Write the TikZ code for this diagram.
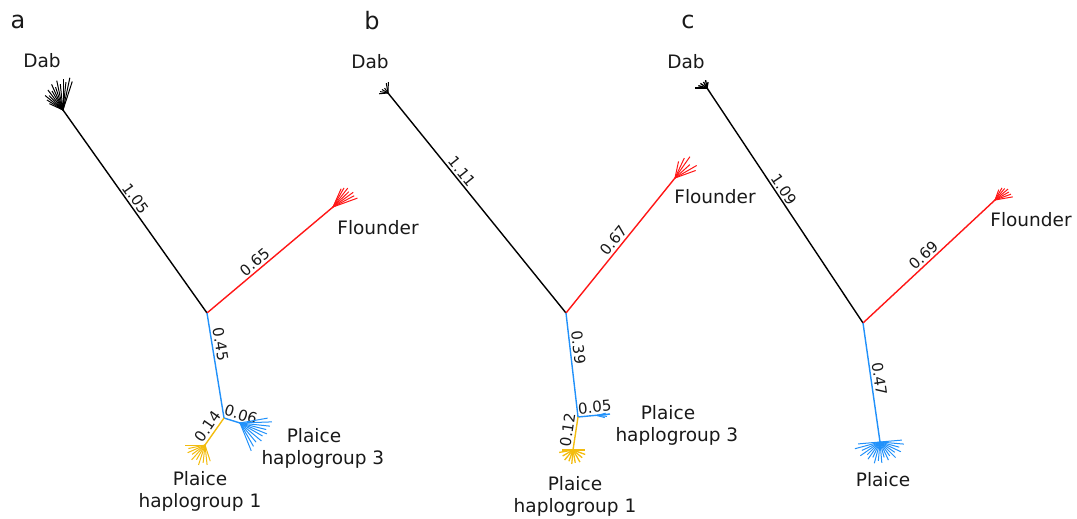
\documentclass[tikz,border=0pt]{standalone}
\usepackage{fontspec}
\setmainfont{DejaVu Sans}
\definecolor{flounderred}{RGB}{255,22,22}
\definecolor{plaiceblue}{RGB}{33,145,250}
\definecolor{plaicegold}{RGB}{243,188,14}
\begin{document}
\begin{tikzpicture}[x=1pt,y=-1pt,
    branch/.style={line width=1.4pt},
    tuft/.style={line width=1pt},
    dist/.style={sloped,above,inner sep=2pt,text=black!90,font=\fontsize{15}{17}\selectfont},
    taxon/.style={align=center,text=black!90,font=\fontsize{18.5}{22}\selectfont},
    panel/.style={text=black!90,font=\fontsize{24}{28}\selectfont}]
    \useasboundingbox (0,0) rectangle (1077,519);
    % panel a
    \node[panel] (panA) at (18,22) {a};
    \coordinate (rootA) at (207,313);
    \coordinate (dabA) at (63,110);
    \coordinate (flA) at (333,207);
    \coordinate (joinA) at (224,418);
    \coordinate (hgoneA) at (205,445);
    \coordinate (hgthreeA) at (240,423);
    \draw[branch] (dabA) -- node[dist,pos=0.46] {1.05} (rootA);
    \draw[branch,flounderred] (rootA) -- node[dist,pos=0.42] {0.65} (flA);
    \draw[branch,plaiceblue] (rootA) -- node[dist,pos=0.31] {0.45} (joinA);
    \draw[branch,plaiceblue] (joinA) -- node[dist,pos=0.9] {0.06} (hgthreeA);
    \draw[branch,plaicegold] (joinA) -- node[dist,pos=0.5] {0.14} (hgoneA);
    \foreach \a/\l in {-72/30,-78/33,-84/28,-90/31,-96/26,-102/30,-108/24,-114/28,-120/22,-127/25,-134/20,-141/23,-148/19,-155/15}
        \draw[tuft] (dabA) -- ++(\a:\l);
    \foreach \a/\l in {-20/26,-28/24,-36/25,-44/22,-52/24,-60/22,-66/20}
        \draw[tuft,flounderred] (flA) -- ++(\a:\l);
    \foreach \a/\l in {-10/28,-2/32,6/30,14/27,22/29,30/26,40/28,50/25,60/27,68/30}
        \draw[tuft,plaiceblue] (hgthreeA) -- ++(\a:\l);
    \foreach \a/\l in {72/17,84/20,96/18,108/21,120/17,132/20,144/16,156/19,168/17,180/20}
        \draw[tuft,plaicegold] (hgoneA) -- ++(\a:\l);
    \node[taxon] (dabAl) at (42,61) {Dab};
    \node[taxon] (flAl) at (378,228) {Flounder};
    \node[taxon] (hgthreeAl) at (314,448) {Plaice\\haplogroup\rlap{ 3}};
    \node[taxon] (hgoneAl) at (200,491) {Plaice\\haplogroup 1};
    % panel b
    \node[panel] (panB) at (372,21) {b};
    \coordinate (rootB) at (566,313);
    \coordinate (dabB) at (388,93);
    \coordinate (flB) at (675,178);
    \coordinate (joinB) at (578,417);
    \coordinate (hgoneB) at (573,450);
    \coordinate (hgthreeB) at (610,414);
    \coordinate (tuftB) at (597,415.5);
    \draw[branch] (dabB) -- node[dist,pos=0.38] {1.11} (rootB);
    \draw[branch,flounderred] (rootB) -- node[dist,pos=0.5] {0.67} (flB);
    \draw[branch,plaiceblue] (rootB) -- node[dist,pos=0.34] {0.39} (joinB);
    \draw[branch,plaiceblue] (joinB) -- node[dist,pos=0.55] {0.05} (hgthreeB);
    \draw[branch,plaicegold] (joinB) -- node[dist,pos=0.43] {0.12} (hgoneB);
    \foreach \a/\l in {175/9,190/8,210/7,235/6,-100/10,-88/11}
        \draw[tuft] (dabB) -- ++(\a:\l);
    \foreach \a/\l in {-20/22,-30/25,-42/20,-55/26,-65/22,-78/17}
        \draw[tuft,flounderred] (flB) -- ++(\a:\l);
    \foreach \a/\l in {-15/9,-5/11,5/10,15/8}
        \draw[tuft,plaiceblue] (tuftB) -- ++(\a:\l);
    \foreach \a/\l in {0/12,20/13,40/12,60/14,80/13,95/14,110/12,130/13,150/12,170/14,180/11}
        \draw[tuft,plaicegold,line width=1.3pt] (hgoneB) -- ++(\a:\l);
    \node[taxon] (dabBl) at (370,62) {Dab};
    \node[taxon] (flBl) at (715,197) {Flounder};
    \node[taxon] (hgthreeBl) at (668,425) {Plaice\\haplogroup\rlap{ 3}};
    \node[taxon] (hgoneBl) at (575,496) {Plaice\\haplogroup 1};
    % panel c
    \node[panel] (panC) at (688,22) {c};
    \coordinate (rootC) at (863,323);
    \coordinate (dabC) at (707,88);
    \coordinate (flC) at (995,200);
    \coordinate (plC) at (880,442);
    \draw[branch] (dabC) -- node[dist,pos=0.45] {1.09} (rootC);
    \draw[branch,flounderred] (rootC) -- node[dist,pos=0.5] {0.69} (flC);
    \draw[branch,plaiceblue] (rootC) -- node[dist,pos=0.48] {0.47} (plC);
    \foreach \a/\l in {180/12,195/9,215/8,-120/7,-100/8,-80/6}
        \draw[tuft,line width=1.3pt] (dabC) -- ++(\a:\l);
    \foreach \a/\l in {-10/18,-20/17,-30/16,-40/17,-50/15,-60/14,-70/11}
        \draw[tuft,flounderred] (flC) -- ++(\a:\l);
    \foreach \a/\l in {-5/22,5/24,15/20,25/23,35/18,45/22,55/17,65/20,75/16,85/21,95/19,105/22,115/17,125/21,135/18,145/24,155/20,165/26,175/22}
        \draw[tuft,plaiceblue] (plC) -- ++(\a:\l);
    \node[taxon] (dabCl) at (686,62) {Dab};
    \node[taxon] (flCl) at (1031,220) {Flounder};
    \node[taxon] (plCl) at (883,480) {Plaice};
  \end{tikzpicture}
\end{document}
